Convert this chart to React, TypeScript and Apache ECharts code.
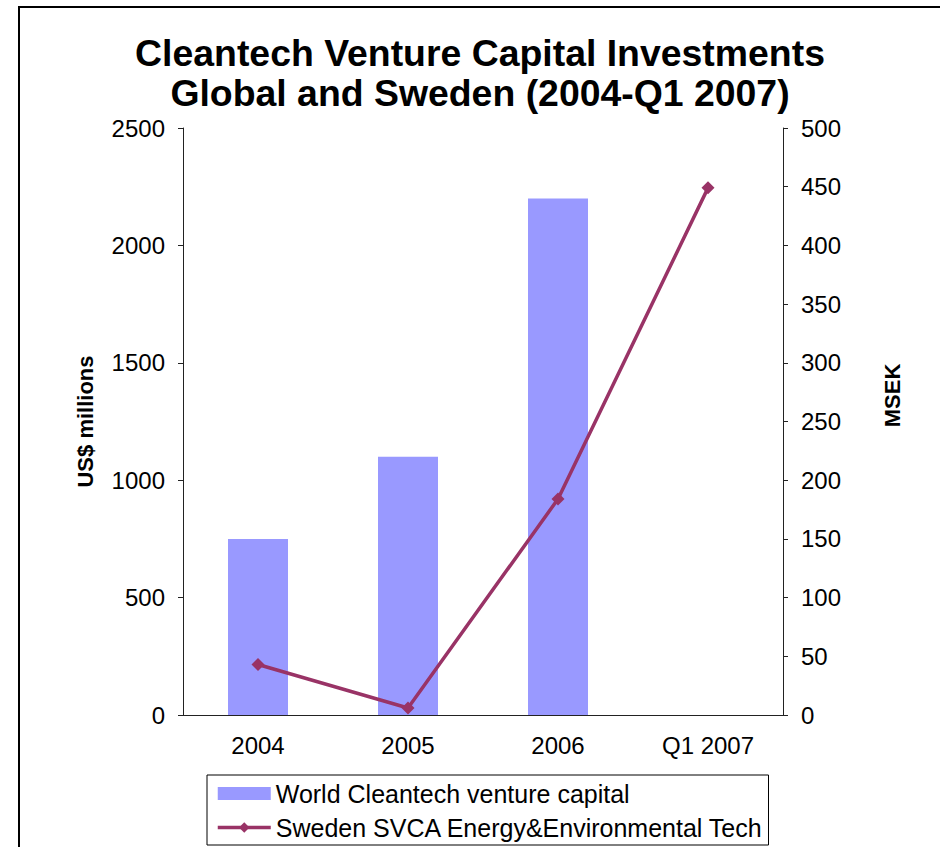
import React, { useEffect, useRef } from "react";
import * as echarts from "echarts";

const categories = ["2004", "2005", "2006", "Q1 2007"];
const worldVC = [750, 1100, 2200, null];
const swedenSVCA = [43, 6, 184, 449];
const leftTicks = { min: 0, max: 2500, interval: 500 };
const rightTicks = { min: 0, max: 500, interval: 50 };
const titleLines = [
  "Cleantech Venture Capital Investments",
  "Global and Sweden (2004-Q1 2007)",
];
const seriesNames = [
  "World Cleantech venture capital",
  "Sweden SVCA Energy&Environmental Tech",
];

const FONT = '"Liberation Sans", Arial, Helvetica, sans-serif';
const LINE_COLOR = "#993366";

export default function App() {
  const ref = useRef<HTMLDivElement>(null);
  useEffect(() => {
    if (!ref.current) return;
    const chart = echarts.init(ref.current, undefined, { renderer: "svg" });
    const axisLine = { show: true, lineStyle: { color: "#222", width: 1 } };
    const plain = (v: number) => String(v);
    chart.setOption({
      animation: false,
      backgroundColor: "#fff",
      textStyle: { fontFamily: FONT },
      grid: { left: 183, right: 157, top: 128, bottom: 132, containLabel: false },
      graphic: [
        {
          type: "rect",
          shape: { x: 19, y: 7, width: 1000, height: 1000 },
          style: { fill: "none", stroke: "#000", lineWidth: 2 },
          silent: true,
        },
        {
          type: "text",
          x: 480,
          y: 53,
          style: {
            text: titleLines[0],
            fontSize: 37.4,
            fontWeight: "bold",
            fontFamily: FONT,
            fill: "#000",
            textAlign: "center",
            textVerticalAlign: "middle",
          },
        },
        {
          type: "text",
          x: 480,
          y: 93,
          style: {
            text: titleLines[1],
            fontSize: 37.4,
            fontWeight: "bold",
            fontFamily: FONT,
            fill: "#000",
            textAlign: "center",
            textVerticalAlign: "middle",
          },
        },
      ],
      legend: {
        orient: "vertical",
        left: 207,
        top: 775,
        padding: [6, 5, 5, 9],
        itemGap: 9,
        itemWidth: 53,
        itemHeight: 13,
        borderColor: "#000",
        borderWidth: 1,
        textStyle: { fontSize: 25, color: "#000", fontFamily: FONT },
        data: [
          { name: seriesNames[0], icon: "rect" },
          {
            name: seriesNames[1],
            lineStyle: { width: 3.5, color: LINE_COLOR },
            itemStyle: { color: LINE_COLOR },
          },
        ],
      },
      xAxis: {
        type: "category",
        data: categories,
        boundaryGap: true,
        axisLine,
        axisTick: { show: false },
        axisLabel: { fontSize: 24, color: "#000", margin: 18, fontFamily: FONT },
      },
      yAxis: [
        {
          type: "value",
          min: leftTicks.min,
          max: leftTicks.max,
          interval: leftTicks.interval,
          name: "US$ millions",
          nameLocation: "middle",
          nameGap: 87,
          nameTextStyle: { fontSize: 22, fontWeight: "bold", color: "#000", fontFamily: FONT },
          axisLine,
          axisTick: { show: true, length: 5, lineStyle: { color: "#222" } },
          splitLine: { show: false },
          axisLabel: { fontSize: 24, color: "#000", margin: 18, fontFamily: FONT, formatter: plain },
        },
        {
          type: "value",
          position: "right",
          min: rightTicks.min,
          max: rightTicks.max,
          interval: rightTicks.interval,
          name: "MSEK",
          nameLocation: "middle",
          nameGap: 98,
          nameTextStyle: {
            fontSize: 22,
            fontWeight: "bold",
            color: "#000",
            fontFamily: FONT,
            padding: [0, 0, 0, 52],
          },
          axisLine,
          axisTick: { show: true, length: 5, lineStyle: { color: "#222" } },
          splitLine: { show: false },
          axisLabel: { fontSize: 24, color: "#000", margin: 18, fontFamily: FONT, formatter: plain },
        },
      ],
      series: [
        {
          name: seriesNames[0],
          type: "bar",
          data: worldVC,
          barWidth: 60,
          itemStyle: { color: "#9999FF" },
        },
        {
          name: seriesNames[1],
          type: "line",
          yAxisIndex: 1,
          data: swedenSVCA,
          symbol: "diamond",
          symbolSize: 13,
          lineStyle: { color: LINE_COLOR, width: 3.5 },
          itemStyle: { color: LINE_COLOR },
        },
      ],
    });
    return () => chart.dispose();
  }, []);
  return (
    <div
      ref={ref}
      style={{ position: "absolute", left: 0, top: 0, width: 940, height: 847 }}
    />
  );
}
